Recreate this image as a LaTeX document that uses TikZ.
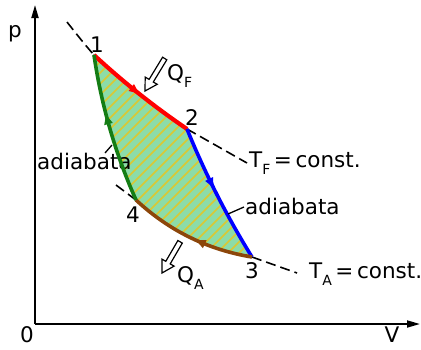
\documentclass[tikz,border=0pt]{standalone}
\usepackage{fontspec}
\setmainfont{DejaVu Sans}
\usetikzlibrary{arrows.meta,decorations.markings}
\definecolor{cfill}{RGB}{140,220,168}
\definecolor{chatch}{RGB}{218,200,50}
\definecolor{cred}{RGB}{255,0,0}
\definecolor{cblue}{RGB}{0,0,255}
\definecolor{cgreen}{RGB}{20,125,20}
\definecolor{cbrown}{RGB}{140,70,10}
\newcommand\subtx[1]{\raisebox{-0.32em}{\fontsize{14}{16}\selectfont #1}}
\begin{document}
\begin{tikzpicture}[x=1pt,y=-1pt,
  lbl/.style={font=\fontsize{21.5}{25}\selectfont, inner sep=0pt},
  axis/.style={line width=1.8pt, -{Triangle[length=13pt,width=7pt]}},
  iso/.style={line width=1.6pt, dash pattern=on 10pt off 5pt},
  leader/.style={line width=1.3pt},
  mk/.style={postaction={decorate, decoration={markings, mark=at position #1 with {\arrow{Triangle[length=10pt,width=8pt]}}}}},
  proc/.style={line width=3.6pt, line join=round},
  hollow/.style={line width=1.2pt, line join=miter, fill=white}
]
\useasboundingbox (0,0) rectangle (421,349);
\coordinate (O) at (35,324);
\coordinate (Ytop) at (35,5);
\coordinate (Xend) at (420,324);
\coordinate (P1) at (94,55);
\coordinate (P2) at (187,129);
\coordinate (P3) at (252,257);
\coordinate (P4) at (136,200);
\coordinate (TFa) at (67,22);
\coordinate (TFb) at (247,163);
\coordinate (TAa) at (116,185);
\coordinate (TAb) at (297,273);

% fill with hatching
\fill[cfill] (P1) .. controls (123.1,82) and (154.1,106.6) .. (P2)
  .. controls (205.1,173.5) and (226.7,216.1) .. (P3)
  .. controls (207.6,249.7) and (169,230.7) .. (P4)
  .. controls (115.3,153.6) and (101.3,105.2) .. (P1) -- cycle;
\begin{scope}
\clip (P1) .. controls (123.1,82) and (154.1,106.6) .. (P2)
  .. controls (205.1,173.5) and (226.7,216.1) .. (P3)
  .. controls (207.6,249.7) and (169,230.7) .. (P4)
  .. controls (115.3,153.6) and (101.3,105.2) .. (P1) -- cycle;
\foreach \c in {140,151,...,520} \draw[chatch, line width=1.6pt] (\c,0) -- ({\c-400},400);
\end{scope}
\draw[line width=0.9pt, black!70] (P1) .. controls (123.1,82) and (154.1,106.6) .. (P2)
  .. controls (205.1,173.5) and (226.7,216.1) .. (P3)
  .. controls (207.6,249.7) and (169,230.7) .. (P4)
  .. controls (115.3,153.6) and (101.3,105.2) .. (P1) -- cycle;

% axes
\draw[axis] (O) -- (Ytop);
\draw[axis] (O) -- (Xend);

% isotherms
\draw[iso] (TFa) .. controls (78,36) and (86,46) .. (P1);
\draw[iso] (P2) -- (TFb);
\draw[iso] (TAa) -- (P4);
\draw[iso] (P3) -- (TAb);

% labels (left adiabata under the green line)
\node[lbl, anchor=west] (lad1) at (37,161) {adiabata};

% processes
\draw[proc, cred, line width=4.2pt, mk=0.5] (P1) .. controls (123.1,82) and (154.1,106.6) .. (P2);
\draw[proc, cblue, mk=0.45] (P2) .. controls (205.1,173.5) and (226.7,216.1) .. (P3);
\draw[proc, cbrown, mk=0.45] (P3) .. controls (207.6,249.7) and (169,230.7) .. (P4);
\draw[proc, cgreen, mk=0.6] (P4) .. controls (115.3,153.6) and (101.3,105.2) .. (P1);

% heat arrows
\draw[hollow] (145,91) -- (157.2,84.3) -- (153.3,82.0) -- (166.8,59.8) -- (162.6,57.2) -- (149.1,79.4) -- (145.2,77.1) -- cycle;
\draw[hollow] (162,273) -- (174.1,266.1) -- (170.2,263.9) -- (182.3,243.1) -- (177.9,240.5) -- (165.8,261.3) -- (161.9,259.1) -- cycle;

% labels
\node[lbl] (lp) at (15,34) {p};
\node[lbl] (l0) at (27,335) {0};
\node[lbl] (lV) at (392,335) {V};
\node[lbl] (l1) at (97,45) {1};
\node[lbl] (l2) at (192,118) {2};
\node[lbl] (l3) at (252,271) {3};
\node[lbl] (l4) at (133,215) {4};
\node[lbl, anchor=west] (lQF) at (167,76) {Q\subtx{F}};
\node[lbl, anchor=west] (lQA) at (177,278) {Q\subtx{A}};
\node[lbl, anchor=west] (lTF) at (249,163) {T\subtx{F}\,=\,const.};
\node[lbl, anchor=west] (lTA) at (309,274) {T\subtx{A}\,=\,const.};
\node[lbl, anchor=west] (lad2) at (245,206) {adiabata};
\coordinate (L1a) at (105,153);
\coordinate (L1b) at (112,145);
\coordinate (L2a) at (228,214);
\coordinate (L2b) at (244,207);
\draw[leader] (L1a) -- (L1b);
\draw[leader] (L2a) -- (L2b);
\end{tikzpicture}
\end{document}
